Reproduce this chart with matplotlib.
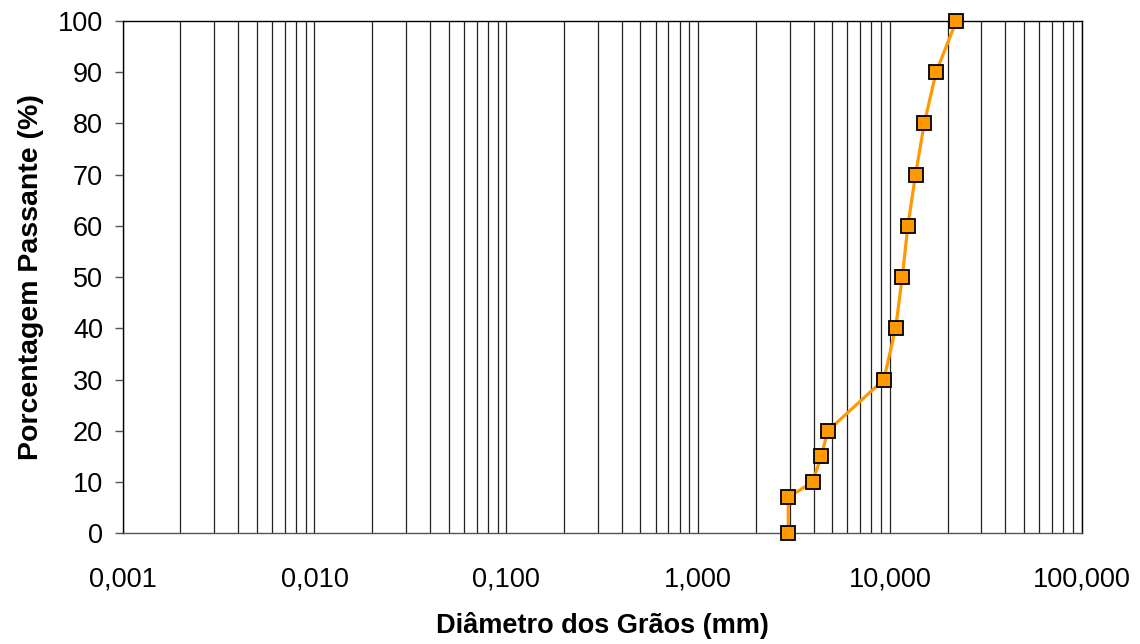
import matplotlib
matplotlib.use("Agg")
import matplotlib.pyplot as plt
from matplotlib.ticker import FixedLocator, FuncFormatter, NullFormatter, LogLocator
import numpy as np

plt.rcParams["font.family"] = ["Liberation Sans", "DejaVu Sans"]

# grain size curve (diameter in mm, percent passing)
diametro = [2.95, 2.95, 3.95, 4.38, 4.75, 9.3, 10.7, 11.6, 12.4, 13.6, 15.1, 17.4, 22.2]
passante = [0, 7, 10, 15, 20, 30, 40, 50, 60, 70, 80, 90, 100]

x_major = [0.001, 0.01, 0.1, 1, 10, 100]
y_ticks = np.arange(0, 101, 10)

orange = "#FF9900"
fontsize_ticks = 19.5
fontsize_labels = 20.5

fig = plt.figure(figsize=(11.4, 6.44), dpi=100)
ax = fig.add_axes([0.1076, 0.172, 0.8413, 0.7955])

ax.set_xscale("log")
ax.set_xlim(0.001, 100)
ax.set_ylim(0, 100)

ax.xaxis.set_major_locator(FixedLocator(x_major))
ax.xaxis.set_minor_locator(LogLocator(base=10, subs=np.arange(2, 10)))
ax.xaxis.set_major_formatter(FuncFormatter(lambda v, p: f"{v:,.3f}".replace(".", ",")))
ax.xaxis.set_minor_formatter(NullFormatter())
ax.set_yticks(y_ticks)

# vertical grid lines only
ax.grid(True, which="both", axis="x", color="#222222", linewidth=0.9)
ax.set_axisbelow(True)

ax.plot(diametro, passante, color=orange, linewidth=2.3, marker="s",
        markersize=9.5, markerfacecolor=orange, markeredgecolor="black",
        markeredgewidth=1.3, zorder=3, clip_on=False)

for side in ["left", "right", "top", "bottom"]:
    ax.spines[side].set_color("black")
    ax.spines[side].set_linewidth(1.0)
ax.spines["bottom"].set_color("#555555")

ax.tick_params(axis="x", which="both", length=0, pad=24, labelsize=fontsize_ticks)
ax.tick_params(axis="y", direction="out", length=6, width=1, color="#555555",
               pad=8, labelsize=fontsize_ticks)

ax.set_xlabel("Diâmetro dos Grãos (mm)", fontsize=fontsize_labels - 1, fontweight="bold", labelpad=14)
ax.set_ylabel("Porcentagem Passante (%)", fontsize=fontsize_labels, fontweight="bold", labelpad=10)

fig.savefig("out.png", dpi=100)
